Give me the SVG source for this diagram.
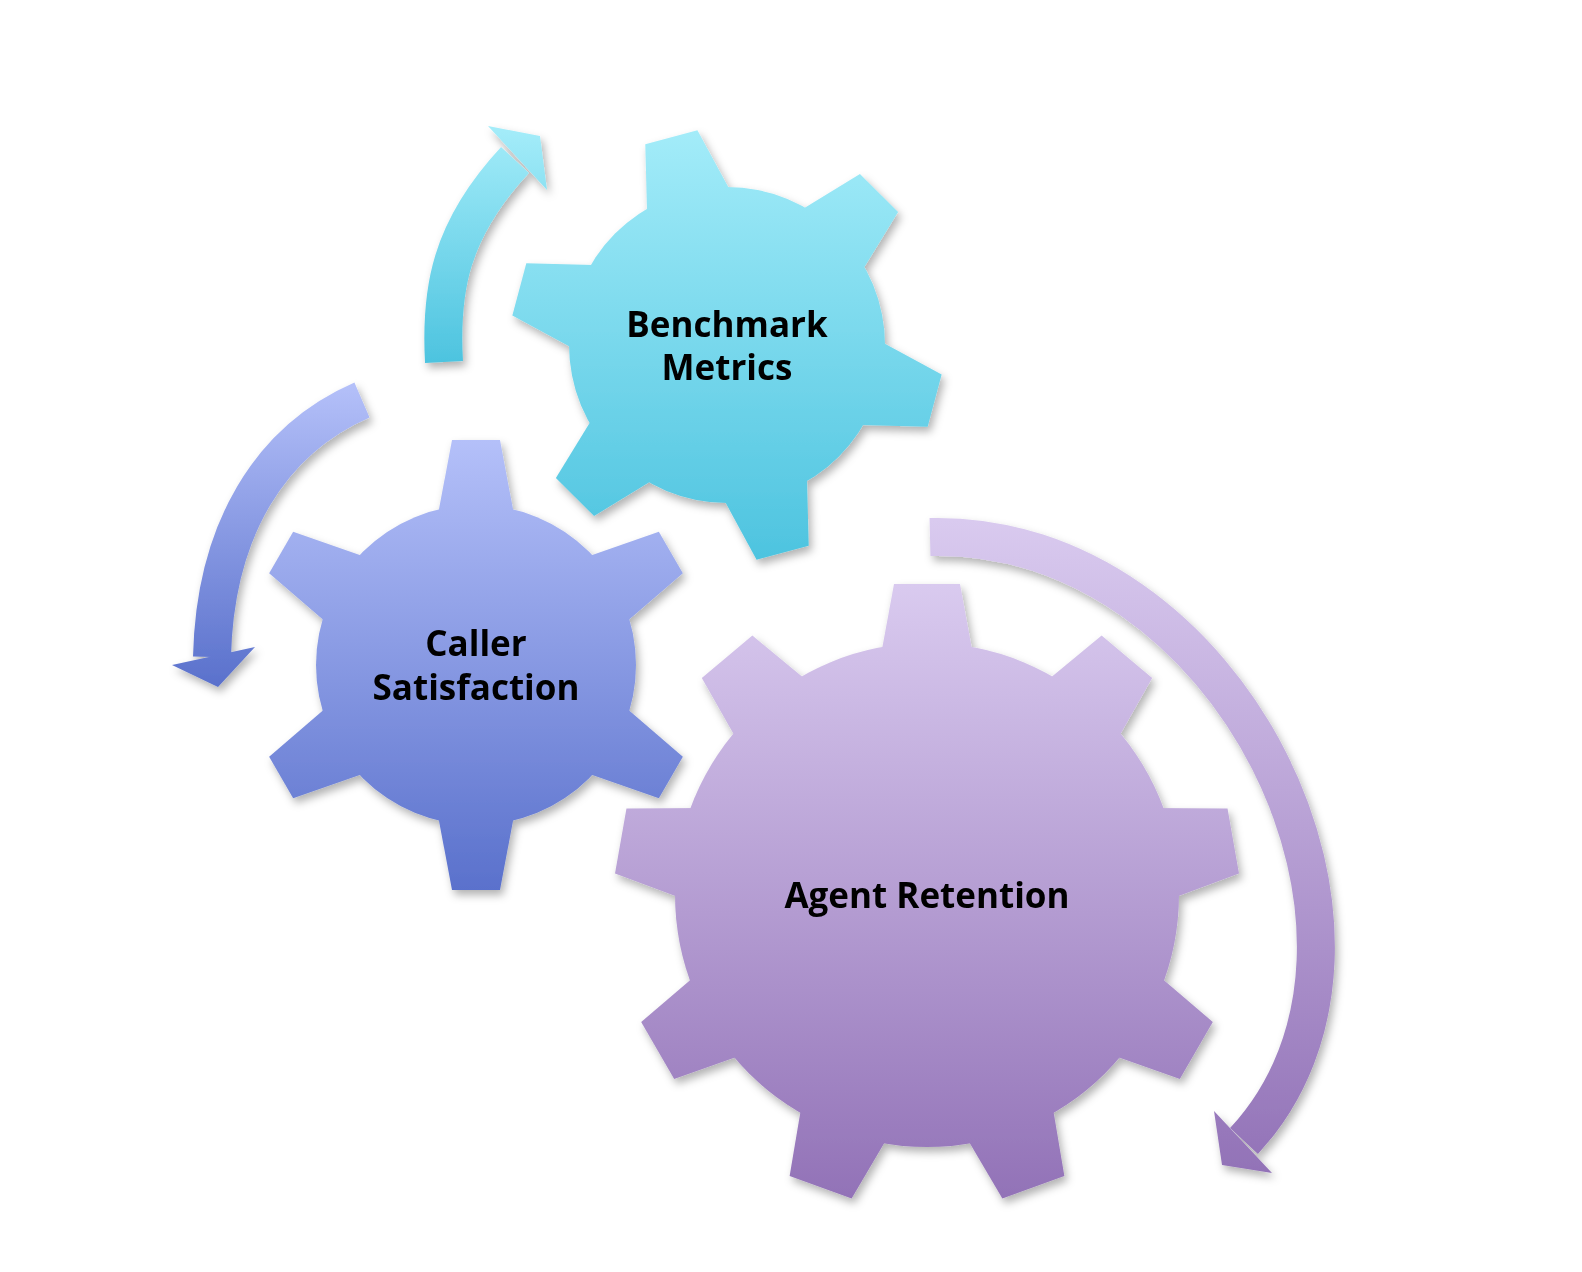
<svg xmlns="http://www.w3.org/2000/svg" width="1582" height="1272" viewBox="0 0 1582 1272">
<defs>
<linearGradient id="g1" gradientUnits="userSpaceOnUse" x1="0" y1="130" x2="0" y2="565"><stop offset="0" stop-color="#a3ecf9"/><stop offset="1" stop-color="#4cc3df"/></linearGradient>
<linearGradient id="g2" gradientUnits="userSpaceOnUse" x1="0" y1="440" x2="0" y2="890"><stop offset="0" stop-color="#b4c0f9"/><stop offset="1" stop-color="#5a71cc"/></linearGradient>
<linearGradient id="g3" gradientUnits="userSpaceOnUse" x1="0" y1="585" x2="0" y2="1200"><stop offset="0" stop-color="#d9caef"/><stop offset="1" stop-color="#9272b7"/></linearGradient>
<linearGradient id="a1" gradientUnits="userSpaceOnUse" x1="0" y1="130" x2="0" y2="365"><stop offset="0" stop-color="#a3ecf9"/><stop offset="1" stop-color="#4cc3df"/></linearGradient>
<linearGradient id="a2" gradientUnits="userSpaceOnUse" x1="0" y1="385" x2="0" y2="685"><stop offset="0" stop-color="#b4c0f9"/><stop offset="1" stop-color="#5a71cc"/></linearGradient>
<linearGradient id="a3" gradientUnits="userSpaceOnUse" x1="0" y1="520" x2="0" y2="1175"><stop offset="0" stop-color="#d9caef"/><stop offset="1" stop-color="#9272b7"/></linearGradient>
<filter id="sh" x="-10%" y="-10%" width="120%" height="120%"><feDropShadow dx="3" dy="5" stdDeviation="4" flood-color="#000" flood-opacity="0.3"/></filter>
<mask id="m1"><g fill="#fff"><circle cx="727" cy="345" r="158"/>
<polygon points="867,300 942,318 942,372 867,390" transform="rotate(-105 727 345)"/>
<polygon points="867,300 942,318 942,372 867,390" transform="rotate(-45 727 345)"/>
<polygon points="867,300 942,318 942,372 867,390" transform="rotate(15 727 345)"/>
<polygon points="867,300 942,318 942,372 867,390" transform="rotate(75 727 345)"/>
<polygon points="867,300 942,318 942,372 867,390" transform="rotate(135 727 345)"/>
<polygon points="867,300 942,318 942,372 867,390" transform="rotate(195 727 345)"/>
</g></mask>
<mask id="m2"><g fill="#fff"><circle cx="476" cy="665" r="160"/>
<polygon points="616,625 701,641 701,689 616,705" transform="rotate(-90 476 665)"/>
<polygon points="616,625 701,641 701,689 616,705" transform="rotate(-30 476 665)"/>
<polygon points="616,625 701,641 701,689 616,705" transform="rotate(30 476 665)"/>
<polygon points="616,625 701,641 701,689 616,705" transform="rotate(90 476 665)"/>
<polygon points="616,625 701,641 701,689 616,705" transform="rotate(150 476 665)"/>
<polygon points="616,625 701,641 701,689 616,705" transform="rotate(210 476 665)"/>
</g></mask>
<mask id="m3"><g fill="#fff"><circle cx="927" cy="895" r="252"/>
<polygon points="1162,848 1238,862 1238,928 1162,942" transform="rotate(-90 927 895)"/>
<polygon points="1162,848 1238,862 1238,928 1162,942" transform="rotate(-50 927 895)"/>
<polygon points="1162,848 1238,862 1238,928 1162,942" transform="rotate(-10 927 895)"/>
<polygon points="1162,848 1238,862 1238,928 1162,942" transform="rotate(30 927 895)"/>
<polygon points="1162,848 1238,862 1238,928 1162,942" transform="rotate(70 927 895)"/>
<polygon points="1162,848 1238,862 1238,928 1162,942" transform="rotate(110 927 895)"/>
<polygon points="1162,848 1238,862 1238,928 1162,942" transform="rotate(150 927 895)"/>
<polygon points="1162,848 1238,862 1238,928 1162,942" transform="rotate(190 927 895)"/>
<polygon points="1162,848 1238,862 1238,928 1162,942" transform="rotate(230 927 895)"/>
</g></mask>
</defs>
<style>
text{font-family:"Open Sans","DejaVu Sans",sans-serif;font-weight:bold;font-size:35px;fill:#000;text-anchor:middle}
</style>
<g id="connectors" filter="url(#sh)">
<path d="M444 362 C440 290 450 230 515 160" fill="none" stroke="url(#a1)" stroke-width="38"/>
<polygon points="488,126 540,136 547,190" fill="url(#a1)"/>
<path d="M362 400 C270 440 215 530 212 657" fill="none" stroke="url(#a2)" stroke-width="38"/>
<polygon points="172,665 255,647 218,687" fill="url(#a2)"/>
<path d="M930 537 C1230 530 1430 940 1244 1141" fill="none" stroke="url(#a3)" stroke-width="38"/>
<polygon points="1214,1111 1272,1173 1222,1165" fill="url(#a3)"/>
</g>
<g id="benchmark" filter="url(#sh)"><rect x="500" y="120" width="460" height="460" fill="url(#g1)" mask="url(#m1)"/><text x="727" y="337">Benchmark</text><text x="727" y="380">Metrics</text></g>
<g id="caller" filter="url(#sh)"><rect x="250" y="430" width="460" height="470" fill="url(#g2)" mask="url(#m2)"/><text x="476" y="656">Caller</text><text x="476" y="700">Satisfaction</text></g>
<g id="agent" filter="url(#sh)"><rect x="600" y="570" width="660" height="650" fill="url(#g3)" mask="url(#m3)"/><text x="927" y="908">Agent Retention</text></g>
</svg>
